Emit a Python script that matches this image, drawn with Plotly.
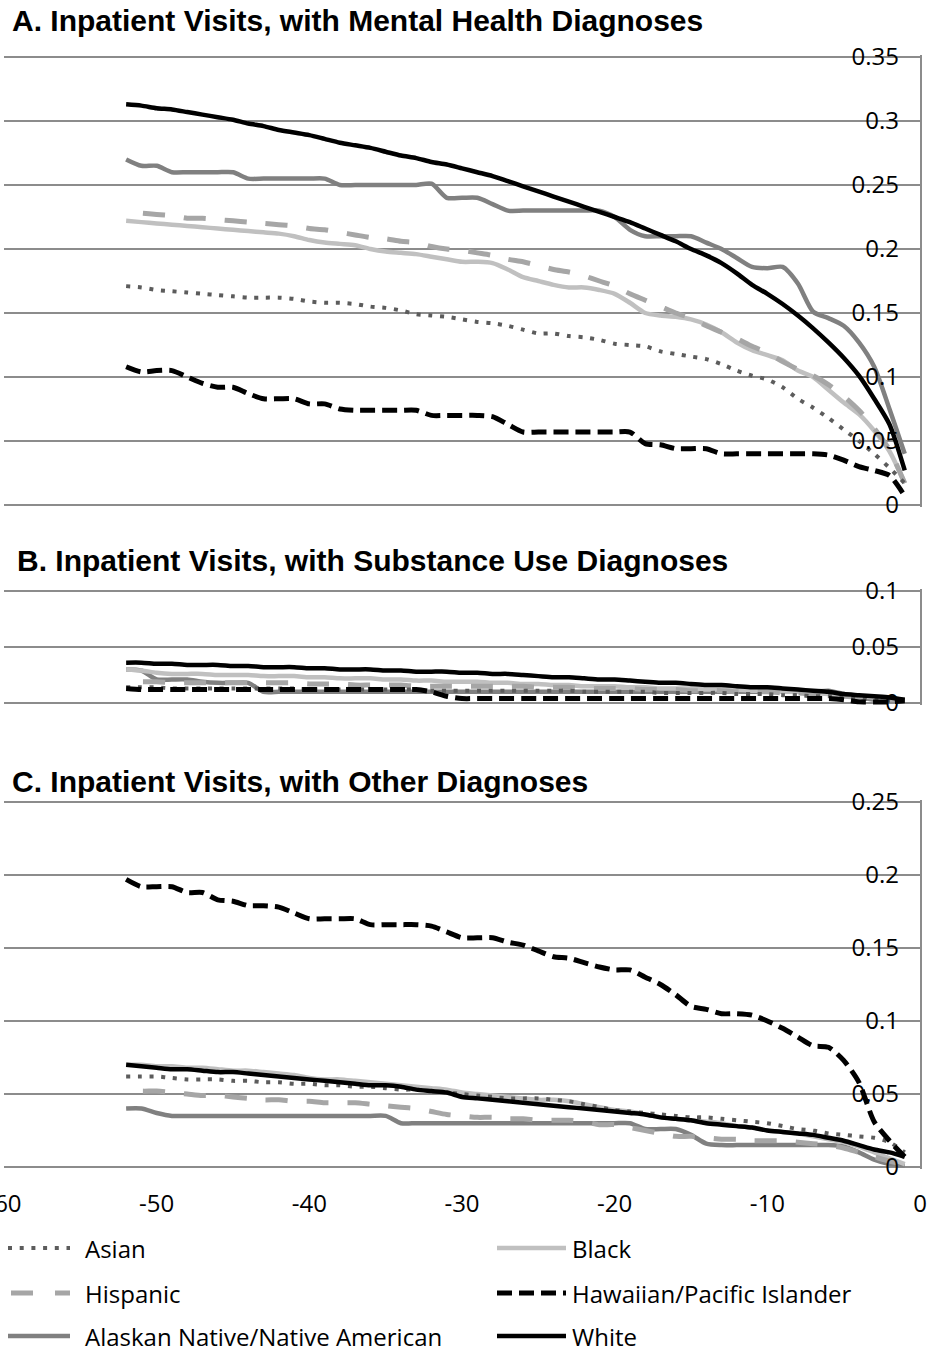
import plotly.graph_objects as go

W, H = 931, 1355

weeks = list(range(-52, 0))

groups = [
    "Asian",
    "Black",
    "Hispanic",
    "Hawaiian/Pacific Islander",
    "Alaskan Native/Native American",
    "White",
]

# ---- Panel A: inpatient visits with mental health diagnoses ----
mh_asian = [.171, .170, .168, .167, .166, .165, .164, .163, .162, .162,
            .162, .161, .159, .158, .158, .157, .155, .154, .152, .149,
            .148, .147, .145, .143, .142, .140, .137, .134, .134, .132,
            .131, .129, .126, .125, .124, .120, .118, .116, .114, .110,
            .105, .101, .098, .092, .083, .076, .068, .059, .050, .040,
            .029, .017]
mh_black = [.222, .221, .220, .219, .218, .217, .216, .215, .214, .213,
            .212, .210, .207, .205, .204, .203, .200, .198, .197, .196,
            .194, .192, .190, .190, .189, .184, .178, .175, .172, .170,
            .170, .168, .165, .158, .150, .148, .147, .145, .141, .135,
            .127, .121, .117, .113, .105, .100, .090, .080, .071, .058,
            .042, .017]
mh_hispanic = [.229, .228, .227, .226, .224, .224, .223, .222, .221, .220,
               .219, .218, .216, .215, .213, .211, .209, .208, .206, .205,
               .202, .200, .199, .197, .195, .192, .190, .187, .184, .182,
               .179, .175, .171, .165, .160, .155, .150, .146, .140, .135,
               .130, .124, .119, .112, .106, .101, .094, .085, .074, .060,
               .043, .017]
mh_hawaiian = [.108, .104, .105, .105, .100, .095, .092, .092, .087, .083,
               .083, .083, .079, .079, .075, .074, .074, .074, .074, .074,
               .070, .070, .070, .070, .069, .063, .057, .057, .057, .057,
               .057, .057, .057, .057, .048, .047, .044, .044, .044, .040,
               .040, .040, .040, .040, .040, .040, .039, .035, .030, .027,
               .023, .007]
mh_alaskan = [.270, .265, .265, .260, .260, .260, .260, .260, .255, .255,
              .255, .255, .255, .255, .250, .250, .250, .250, .250, .250,
              .251, .240, .240, .240, .235, .230, .230, .230, .230, .230,
              .230, .230, .225, .215, .210, .210, .210, .210, .205, .200,
              .193, .186, .185, .186, .173, .151, .146, .140, .127, .108,
              .075, .040]
mh_white = [.313, .312, .310, .309, .307, .305, .303, .301, .298, .296,
            .293, .291, .289, .286, .283, .281, .279, .276, .273, .271,
            .268, .266, .263, .260, .257, .253, .249, .245, .241, .237,
            .233, .229, .225, .221, .216, .211, .206, .200, .195, .189,
            .181, .172, .165, .157, .148, .138, .127, .115, .101, .083,
            .063, .027]

# ---- Panel B: inpatient visits with substance use diagnoses ----
su_asian = [.014, .014, .014, .013, .013, .013, .013, .013, .013, .013,
            .013, .013, .012, .012, .012, .012, .012, .012, .012, .012,
            .011, .011, .011, .011, .011, .011, .011, .011, .011, .011,
            .010, .010, .010, .010, .010, .009, .009, .009, .009, .009,
            .008, .008, .008, .007, .007, .006, .006, .005, .004, .003,
            .002, .002]
su_black = [.030, .029, .027, .026, .026, .026, .025, .025, .025, .024,
            .024, .024, .023, .023, .022, .022, .022, .021, .021, .020,
            .020, .019, .019, .019, .018, .018, .017, .017, .016, .016,
            .015, .015, .015, .014, .014, .013, .013, .013, .012, .012,
            .012, .011, .011, .010, .010, .009, .008, .007, .006, .005,
            .004, .003]
su_hispanic = [.019, .019, .019, .018, .018, .018, .018, .018, .018, .018,
               .018, .018, .017, .017, .017, .016, .016, .016, .016, .015,
               .015, .015, .015, .015, .015, .015, .015, .014, .014, .014,
               .013, .013, .013, .013, .012, .012, .012, .011, .011, .011,
               .010, .010, .010, .009, .009, .008, .007, .006, .005, .004,
               .003, .003]
su_hawaiian = [.013, .012, .012, .012, .012, .012, .012, .012, .012, .012,
               .012, .012, .012, .012, .012, .012, .012, .012, .012, .012,
               .010, .006, .004, .004, .004, .004, .004, .004, .004, .004,
               .004, .004, .004, .004, .004, .004, .004, .004, .004, .004,
               .004, .004, .004, .004, .004, .004, .004, .003, .001, .001,
               .001, .002]
su_alaskan = [.030, .029, .021, .021, .021, .019, .018, .018, .018, .010,
              .010, .010, .010, .010, .010, .010, .010, .010, .010, .010,
              .010, .010, .010, .010, .010, .010, .010, .010, .010, .010,
              .010, .010, .010, .010, .010, .010, .010, .010, .010, .010,
              .010, .010, .010, .010, .010, .010, .011, .008, .005, .003,
              .002, .002]
su_white = [.036, .036, .035, .035, .034, .034, .034, .033, .033, .032,
            .032, .032, .031, .031, .030, .030, .030, .029, .029, .028,
            .028, .028, .027, .027, .026, .026, .025, .024, .023, .023,
            .022, .021, .021, .020, .019, .018, .018, .017, .016, .016,
            .015, .014, .014, .013, .012, .011, .010, .008, .007, .006,
            .005, .003]

# ---- Panel C: inpatient visits with other diagnoses ----
ot_asian = [.062, .062, .062, .061, .060, .060, .060, .059, .059, .058,
            .058, .057, .057, .056, .056, .055, .055, .054, .053, .053,
            .052, .051, .050, .049, .048, .047, .047, .047, .046, .045,
            .043, .041, .039, .038, .037, .036, .035, .034, .034, .033,
            .032, .031, .030, .028, .026, .025, .023, .022, .021, .020,
            .017, .010]
ot_black = [.070, .070, .069, .069, .068, .068, .067, .066, .066, .065,
            .064, .063, .061, .060, .060, .059, .058, .057, .056, .055,
            .054, .053, .051, .050, .049, .048, .047, .046, .046, .045,
            .043, .041, .039, .038, .036, .034, .033, .032, .031, .030,
            .028, .027, .025, .024, .023, .021, .019, .017, .014, .010,
            .006, .002]
ot_hispanic = [.053, .052, .052, .051, .050, .049, .049, .048, .047, .046,
               .046, .045, .045, .044, .044, .044, .043, .042, .041, .040,
               .038, .036, .035, .034, .034, .033, .033, .032, .032, .032,
               .031, .029, .029, .027, .025, .023, .021, .021, .020, .019,
               .019, .018, .018, .018, .017, .016, .015, .013, .010, .007,
               .004, .002]
ot_hawaiian = [.197, .192, .192, .192, .188, .188, .183, .182, .179, .179,
               .178, .174, .170, .170, .170, .170, .166, .166, .166, .166,
               .165, .161, .157, .157, .157, .154, .152, .148, .144, .143,
               .140, .137, .135, .135, .130, .125, .118, .110, .108, .105,
               .105, .104, .100, .095, .089, .083, .082, .073, .058, .031,
               .018, .007]
ot_alaskan = [.040, .040, .037, .035, .035, .035, .035, .035, .035, .035,
              .035, .035, .035, .035, .035, .035, .035, .035, .030, .030,
              .030, .030, .030, .030, .030, .030, .030, .030, .030, .030,
              .030, .030, .030, .030, .026, .026, .026, .022, .016, .015,
              .015, .015, .015, .015, .015, .015, .015, .014, .010, .005,
              .002, .001]
ot_white = [.070, .069, .068, .067, .067, .066, .065, .065, .064, .063,
            .062, .061, .060, .059, .058, .057, .056, .056, .055, .053,
            .052, .051, .048, .047, .046, .045, .044, .043, .042, .041,
            .040, .039, .038, .037, .036, .034, .033, .032, .030, .029,
            .028, .027, .025, .024, .023, .022, .020, .018, .015, .012,
            .010, .007]

panel_titles = [
    "A. Inpatient Visits, with Mental Health Diagnoses",
    "B. Inpatient Visits, with Substance Use Diagnoses",
    "C. Inpatient Visits, with Other Diagnoses",
]
panel_series = [
    {"Asian": mh_asian, "Black": mh_black, "Hispanic": mh_hispanic,
     "Hawaiian/Pacific Islander": mh_hawaiian,
     "Alaskan Native/Native American": mh_alaskan, "White": mh_white},
    {"Asian": su_asian, "Black": su_black, "Hispanic": su_hispanic,
     "Hawaiian/Pacific Islander": su_hawaiian,
     "Alaskan Native/Native American": su_alaskan, "White": su_white},
    {"Asian": ot_asian, "Black": ot_black, "Hispanic": ot_hispanic,
     "Hawaiian/Pacific Islander": ot_hawaiian,
     "Alaskan Native/Native American": ot_alaskan, "White": ot_white},
]
y_max = [0.35, 0.1, 0.25]
x_ticks = [-60, -50, -40, -30, -20, -10, 0]
x_tick_text = ["-60", "-50", "-40", "-30", "-20", "-10", "0"]

# line appearance per group
styles = {
    "Asian": dict(color="#5c5c5c", width=4, dash="4px,7.7px"),
    "Black": dict(color="#c0c0c0", width=4.5, dash="solid"),
    "Hispanic": dict(color="#a6a6a6", width=5, dash="0px,17px,22px,2px"),
    "Hawaiian/Pacific Islander": dict(color="#000000", width=5, dash="15px,7px"),
    "Alaskan Native/Native American": dict(color="#808080", width=4.5, dash="solid"),
    "White": dict(color="#000000", width=4.5, dash="solid"),
}
draw_order = ["Alaskan Native/Native American", "Black", "Hispanic", "Asian",
              "Hawaiian/Pacific Islander", "White"]

# plot areas in pixels (top = max value, bottom = 0)
panel_px = [(57, 505), (591, 703), (802, 1167)]
x_left_px, x_right_px = 4, 920
edge_pad = 2  # keeps the end gridlines from being dropped
grid_col = "#8c8c8c"
tick_font = dict(family="Open Sans", size=24, color="#000000")


def px_x(p):
    return p / W


def px_y(p):
    return 1 - p / H


fig = go.Figure()

for i, series in enumerate(panel_series):
    suffix = "" if i == 0 else str(i + 1)
    for g in draw_order:
        fig.add_trace(go.Scatter(
            x=weeks, y=series[g], name=g, mode="lines",
            line=dict(shape="spline", smoothing=0.7, **styles[g]),
            xaxis="x" + suffix, yaxis="y" + suffix,
            showlegend=False, cliponaxis=False,
            hoverinfo="x+y+name",
        ))

layout = dict(
    width=W, height=H, autosize=False,
    margin=dict(l=0, r=0, t=0, b=0, pad=0, autoexpand=False),
    paper_bgcolor="white", plot_bgcolor="white",
    showlegend=False,
)

for i in range(3):
    suffix = "" if i == 0 else str(i + 1)
    top, bottom = panel_px[i]
    per_px = y_max[i] / (bottom - top)
    last = i == 2
    layout["xaxis" + suffix] = dict(
        domain=[px_x(x_left_px), px_x(x_right_px)],
        range=[-60, 0], anchor="y" + suffix,
        showgrid=False, zeroline=False, showline=False,
        showticklabels=last, ticks="",
        tickvals=x_ticks, ticktext=x_tick_text,
        tickfont=tick_font, ticklabelstandoff=18,
        ticklabeloverflow="allow", automargin=False,
    )
    layout["yaxis" + suffix] = dict(
        domain=[px_y(bottom + edge_pad), px_y(top - edge_pad)],
        range=[-edge_pad * per_px, y_max[i] + edge_pad * per_px],
        anchor="x" + suffix, side="right",
        tick0=0, dtick=0.05,
        showgrid=True, gridcolor=grid_col, gridwidth=1.5,
        zeroline=False,
        showline=True, linecolor=grid_col, linewidth=1.5,
        ticks="", ticklabelposition="inside", ticklabeloverflow="allow",
        ticklabelstandoff=23, tickfont=tick_font, automargin=False,
    )

fig.update_layout(**layout)

# panel headings
title_pos = [(10, 20), (15, 561), (10, 781)]
for (tx, ty), text in zip(title_pos, panel_titles):
    fig.add_annotation(
        x=px_x(tx), y=px_y(ty), xref="paper", yref="paper",
        xanchor="left", yanchor="middle", showarrow=False,
        text="<b>" + text + "</b>",
        font=dict(family="Liberation Sans", size=30, color="#000000"),
    )

# two-column key below the bottom panel
key_rows = [1248, 1293, 1336]
key_cols = [(8, 70, 84), (497, 566, 571)]
for k, g in enumerate(groups):
    row, col = divmod(k, 2)
    x0, x1, tx = key_cols[col]
    y = key_rows[row]
    st = styles[g]
    dash = "0px,3px,22px,19px" if g == "Hispanic" else st["dash"]
    fig.add_shape(
        type="line", xref="paper", yref="paper",
        x0=px_x(x0), x1=px_x(x1), y0=px_y(y), y1=px_y(y),
        line=dict(color=st["color"], width=st["width"], dash=dash),
    )
    fig.add_annotation(
        x=px_x(tx), y=px_y(y), xref="paper", yref="paper",
        xanchor="left", yanchor="middle", showarrow=False, text=g,
        font=tick_font, borderpad=0,
    )

fig.write_html("out.html")
